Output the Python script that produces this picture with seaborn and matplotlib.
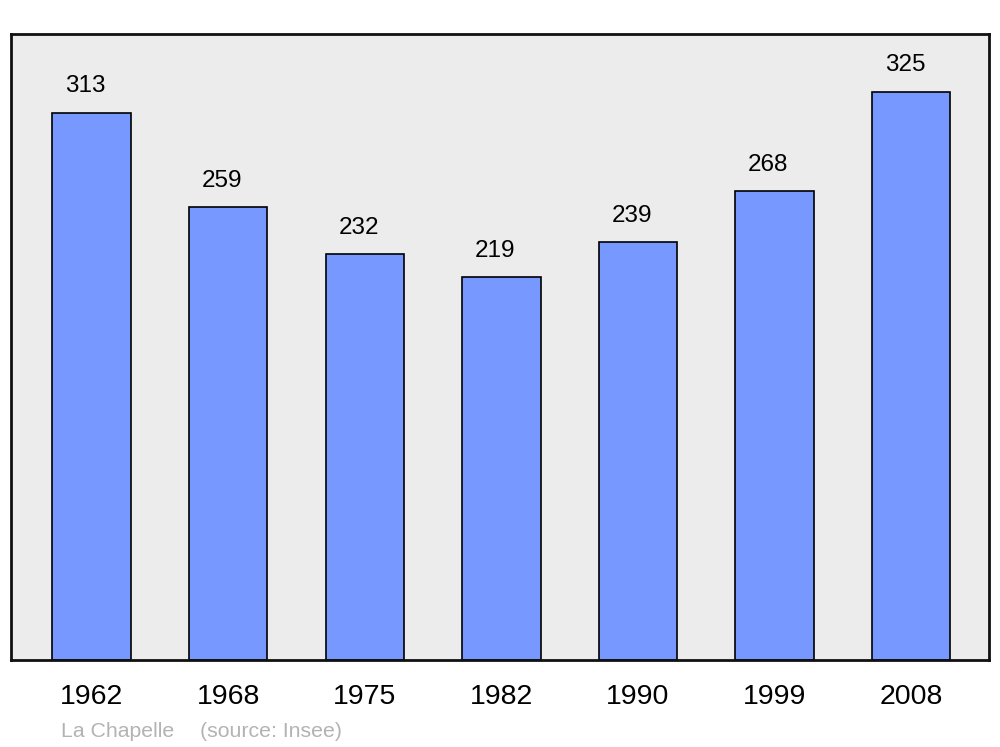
import pandas as pd
import seaborn as sns
import matplotlib.pyplot as plt

# Population of La Chapelle by census year (Insee)
years = ["1962", "1968", "1975", "1982", "1990", "1999", "2008"]
population = [313, 259, 232, 219, 239, 268, 325]

df = pd.DataFrame({"year": years, "pop": population})

sns.set_theme(style="white")
plt.rcParams['font.family'] = ['Liberation Sans', 'DejaVu Sans']

fig = plt.figure(figsize=(10, 7.47), dpi=100)
ax = fig.add_axes([0.011, 0.1165, 0.978, 0.838])
ax.set_facecolor("#ececec")

sns.barplot(data=df, x="year", y="pop", color="#7799ff", saturation=1,
            width=0.575, edgecolor="black", linewidth=1.2, ax=ax)

# value labels above bars
for i, v in enumerate(population):
    ax.annotate(str(v), (i, v), xytext=(-4.5, 19), textcoords="offset points",
                ha="center", va="center", fontsize=17.5, color="black")

ax.set_xlim(-0.59, 6.57)
ax.set_ylim(0, 358)
ax.set_yticks([])
ax.set_xlabel("")
ax.set_ylabel("")
ax.tick_params(axis="x", length=0, pad=17.5, labelsize=20.5, colors="black")
for s in ax.spines.values():
    s.set_visible(True)
    s.set_color("#111111")
    s.set_linewidth(2)

fig.text(0.061, 0.021, "La Chapelle", fontsize=15.3, color="#b3b3b3", ha="left", va="center")
fig.text(0.200, 0.021, "(source: Insee)", fontsize=15.3, color="#b3b3b3", ha="left", va="center")

fig.savefig("out.png", dpi=100)
